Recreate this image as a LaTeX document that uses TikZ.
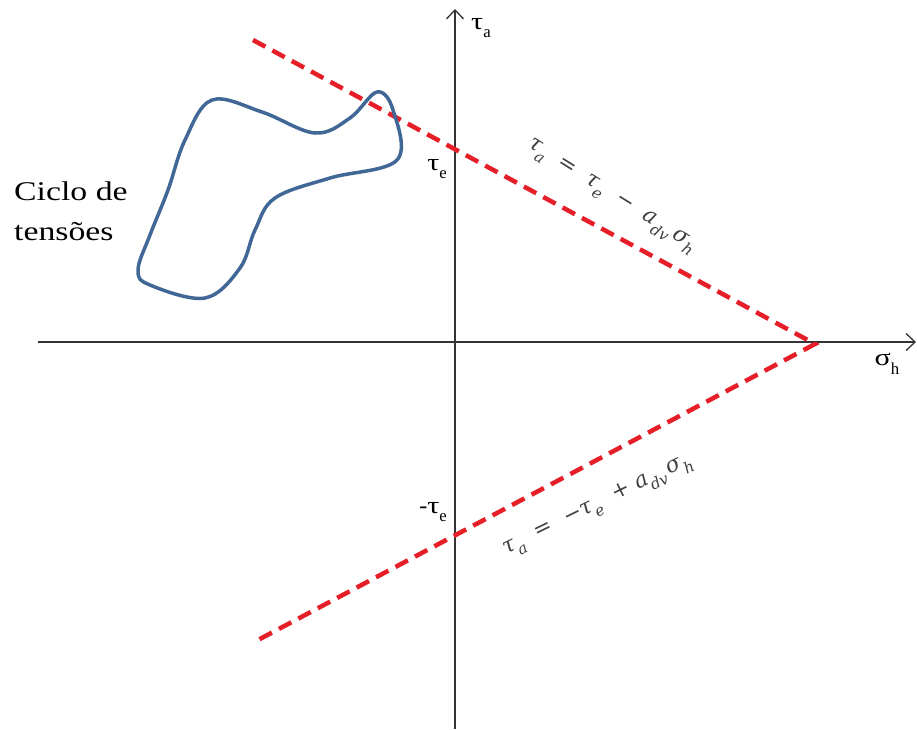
\documentclass[tikz,border=0pt]{standalone}
\usepackage{fontspec}
\newfontfamily\tnr{Liberation Serif}
\newfontfamily\eqf{DejaVu Serif}
\usetikzlibrary{arrows.meta}
\newcommand{\lowsub}[1]{\raisebox{-0.35em}{\scalebox{0.7}{#1}}}
\newcommand{\wide}[1]{\scalebox{1.25}[1]{#1}}
\begin{document}
\begin{tikzpicture}[x=1pt,y=-1pt,
  axis/.style={draw=black!80, line width=1.4pt, -{Straight Barb[length=9pt,width=17pt,line width=1.3pt]}},
  redline/.style={draw={rgb,255:red,230;green,30;blue,40}, line width=4.5pt, dash pattern=on 14pt off 8pt},
  cycleline/.style={draw={rgb,255:red,65;green,103;blue,150}, line width=3.5pt, line join=round},
  axlabel/.style={font=\tnr\fontsize{24}{26}\selectfont, inner sep=0pt},
  eqlabel/.style={font=\eqf\fontsize{22}{24}\selectfont\itshape, text=black!75, inner sep=0pt},
  plain/.style={font=\tnr\fontsize{27}{40}\selectfont, align=left, inner sep=0pt}]
\useasboundingbox (0,0) rectangle (917,729);
\fill[white] (0,0) rectangle (917,729);
\coordinate (xl) at (38,342);
\coordinate (xr) at (916,342);
\coordinate (yb) at (455,729);
\coordinate (yt) at (455,9);
\draw[axis] (xl) -- (xr);
\draw[axis] (yb) -- (yt);
\coordinate (u1) at (253,40);
\coordinate (apex) at (815,344);
\coordinate (l1) at (258,640);
\draw[redline] (u1) -- (apex) -- (l1);
\draw[cycleline] plot[smooth cycle, tension=0.6] coordinates {
  (212,100) (262,112) (315,133) (350,118) (377,92) (393,110) (397,160)
  (330,178) (275,198) (255,230) (240,268) (205,298) (150,285) (138,270)
  (150,235) (168,190) (185,140)};
\node[axlabel, anchor=west] (ta) at (471,28) {\wide{τ}\lowsub{a}};
\node[axlabel, anchor=east] (te) at (447,169) {\wide{τ}\lowsub{e}};
\node[axlabel, anchor=east] (mte) at (447,512) {-\wide{τ}\lowsub{e}};
\node[axlabel] (sh) at (887,364) {\wide{σ}\lowsub{h}};
\node[plain, anchor=west] (ciclo) at (14,211) {\wide{Ciclo de}\\\wide{tensões}};
\node[eqlabel, rotate=-32] (equp) at (611,197) {τ\lowsub{a}\ \ =\ \ τ\lowsub{e}\ \ −\ \ a\lowsub{dv}\,σ\lowsub{h}};
\node[eqlabel, rotate=26] (eqlo) at (598,506) {τ\lowsub{a}\ \ =\ \ −τ\lowsub{e}\ \ +\ a\lowsub{dv}\,σ\lowsub{h}};
\end{tikzpicture}
\end{document}
